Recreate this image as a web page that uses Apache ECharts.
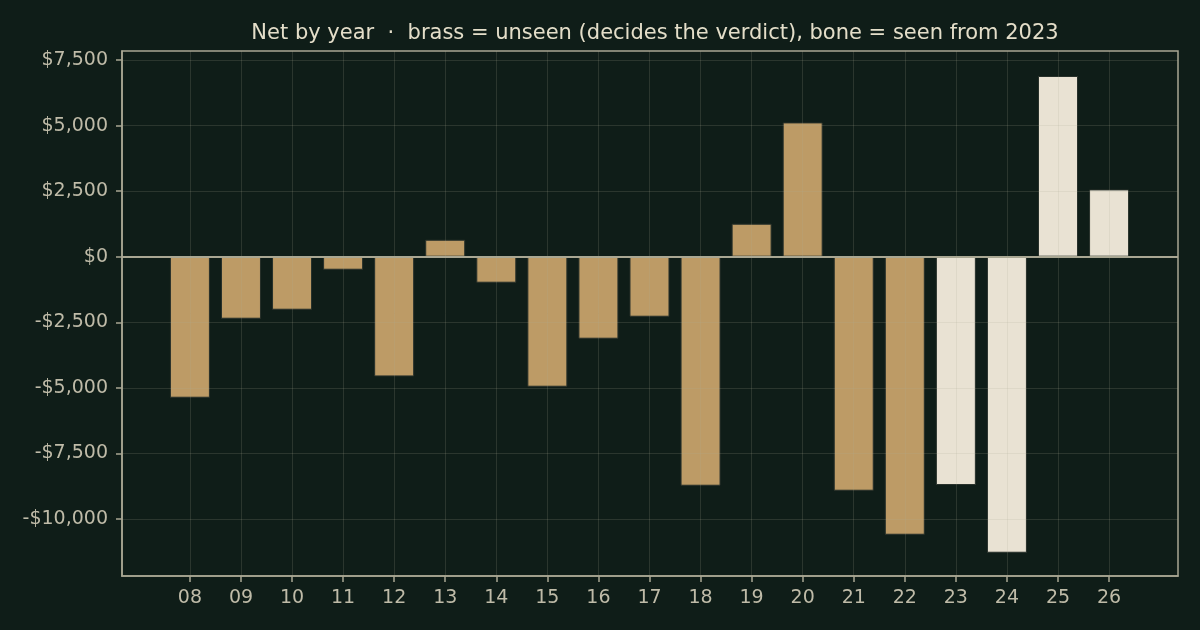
<!DOCTYPE html>
<html>
<head>
<meta charset="utf-8">
<title>Net by year</title>
<script src="https://cdn.jsdelivr.net/npm/echarts@6/dist/echarts.min.js"></script>
<style>
  html, body { margin: 0; padding: 0; background: #0f1d18; }
  #main { width: 1200px; height: 630px; }
</style>
</head>
<body>
<div id="main"></div>
<script>
// years on the x axis, net result per year
var years = [2008, 2009, 2010, 2011, 2012, 2013, 2014, 2015, 2016, 2017, 2018, 2019, 2020, 2021, 2022, 2023, 2024, 2025, 2026];
var net = [-5376, -2364, -2021, -496, -4564, 648, -991, -4957, -3126, -2288, -8731, 1258, 5120, -8922, -10600, -8705, -11286, 6890, 2566];
var yTicks = [-10000, -7500, -5000, -2500, 0, 2500, 5000, 7500];
var seenFrom = 2023;

var brass = '#bd9b66';
var bone = '#e9e2d3';
var frame = '#a9a793';
var labelColor = '#bfbba8';
var gridColor = 'rgba(170,170,150,0.18)';
var font = 'DejaVu Sans';

function money(v) {
    var s = Math.abs(v).toFixed(0).replace(/\B(?=(\d{3})+(?!\d))/g, ',');
    return (v < 0 ? '-$' : '$') + s;
}

var barData = [];
for (var i = 0; i < years.length; i++) {
    barData.push({
        value: [years[i], net[i]],
        itemStyle: { color: years[i] >= seenFrom ? bone : brass }
    });
}

var myChart = echarts.init(document.getElementById('main'));
myChart.setOption({
    backgroundColor: '#0f1d18',
    animation: false,
    title: {
        text: 'Net by year  \u00b7  brass = unseen (decides the verdict), bone = seen from 2023',
        left: 650,
        textAlign: 'center',
        top: 18,
        textStyle: { color: '#e4dec9', fontSize: 21, fontWeight: 'normal', fontFamily: font }
    },
    grid: {
        left: 122, right: 22, top: 51, bottom: 54,
        show: true,
        borderColor: frame,
        borderWidth: 1.5,
        backgroundColor: 'transparent'
    },
    xAxis: {
        type: 'value',
        min: 2006.67,
        max: 2027.35,
        z: 3,
        axisLine: { show: true, onZero: false, lineStyle: { color: frame, width: 1.5 } },
        axisTick: { show: true, length: 6, customValues: years, lineStyle: { color: frame, width: 1.5 } },
        axisLabel: {
            customValues: years,
            color: labelColor, fontSize: 19, fontFamily: font, margin: 13,
            formatter: function (v) { return String(v).slice(2); }
        },
        splitLine: { show: true, lineStyle: { color: gridColor, width: 1 } }
    },
    yAxis: {
        type: 'value',
        min: -12173,
        max: 7843,
        z: 3,
        axisLine: { show: true, onZero: false, lineStyle: { color: frame, width: 1.5 } },
        axisTick: { show: true, length: 6, customValues: yTicks, lineStyle: { color: frame, width: 1.5 } },
        axisLabel: {
            customValues: yTicks,
            color: labelColor, fontSize: 19, fontFamily: font, margin: 14,
            formatter: money
        },
        splitLine: { show: true, lineStyle: { color: gridColor, width: 1 } }
    },
    series: [{
        type: 'bar',
        data: barData,
        barWidth: 40,
        itemStyle: { borderColor: '#27302a', borderWidth: 1 },
        markLine: {
            silent: true,
            symbol: 'none',
            label: { show: false },
            lineStyle: { color: frame, width: 2, type: 'solid' },
            data: [{ yAxis: 0 }]
        }
    }]
});
</script>
</body>
</html>
